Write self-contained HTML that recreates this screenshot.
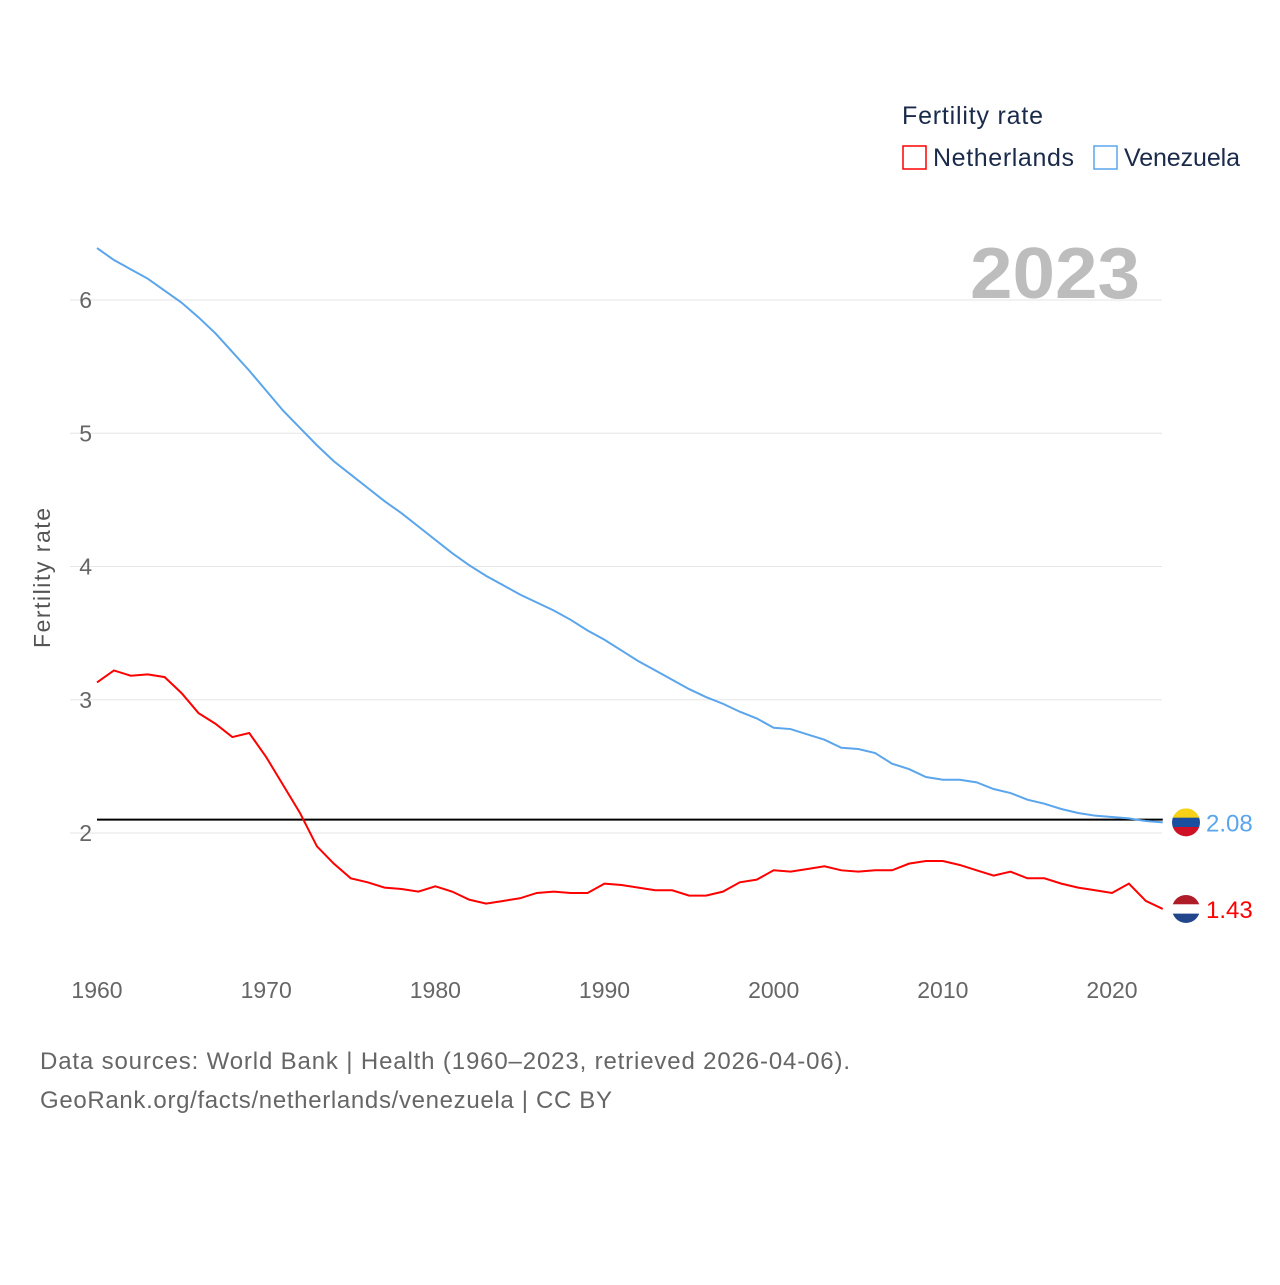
<!DOCTYPE html>
<html><head><meta charset="utf-8"><style>
body{margin:0;background:#fff;font-family:"Liberation Sans",sans-serif}
svg text{font-family:"Liberation Sans",sans-serif}
</style></head><body>
<svg id="chart" width="1280" height="1280" viewBox="0 0 1280 1280">
<text x="902" y="124" font-size="25" fill="#1a2a4a" textLength="141">Fertility rate</text>
<g><rect x="903" y="146" width="23" height="23" fill="none" stroke="#ff0000" stroke-width="1.5"/><text x="933" y="166" font-size="25" fill="#1a2a4a" textLength="141">Netherlands</text></g>
<g><rect x="1094" y="146" width="23" height="23" fill="none" stroke="#5aa5ec" stroke-width="1.5"/><text x="1124" y="166" font-size="25" fill="#1a2a4a" textLength="116">Venezuela</text></g>
<text x="970" y="298" font-size="72" font-weight="bold" fill="#bdbdbd" textLength="170" lengthAdjust="spacingAndGlyphs">2023</text>
<text transform="translate(50,578) rotate(-90)" font-size="23" fill="#555" text-anchor="middle" textLength="140">Fertility rate</text>
<g id="grid"></g><g id="ticks"></g><g id="lines"></g>
<text x="40" y="1069" font-size="24" fill="#666" textLength="810">Data sources: World Bank | Health (1960–2023, retrieved 2026-04-06).</text>
<text x="40" y="1108" font-size="24" fill="#666" textLength="572">GeoRank.org/facts/netherlands/venezuela | CC BY</text>
</svg>
<script>
const years=[];for(let y=1960;y<=2023;y++)years.push(y);
const netherlands=[3.13,3.22,3.18,3.19,3.17,3.05,2.90,2.82,2.72,2.75,2.57,2.36,2.15,1.90,1.77,1.66,1.63,1.59,1.58,1.56,1.60,1.56,1.50,1.47,1.49,1.51,1.55,1.56,1.55,1.55,1.62,1.61,1.59,1.57,1.57,1.53,1.53,1.56,1.63,1.65,1.72,1.71,1.73,1.75,1.72,1.71,1.72,1.72,1.77,1.79,1.79,1.76,1.72,1.68,1.71,1.66,1.66,1.62,1.59,1.57,1.55,1.62,1.49,1.43];
const venezuela=[6.39,6.30,6.23,6.16,6.07,5.98,5.87,5.75,5.61,5.47,5.32,5.17,5.04,4.91,4.79,4.69,4.59,4.49,4.40,4.30,4.20,4.10,4.01,3.93,3.86,3.79,3.73,3.67,3.60,3.52,3.45,3.37,3.29,3.22,3.15,3.08,3.02,2.97,2.91,2.86,2.79,2.78,2.74,2.70,2.64,2.63,2.60,2.52,2.48,2.42,2.40,2.40,2.38,2.33,2.30,2.25,2.22,2.18,2.15,2.13,2.12,2.11,2.09,2.08];
const yTicks=[2,3,4,5,6];
const xTicks=[1960,1970,1980,1990,2000,2010,2020];
const replacementRate=2.1;
const NS="http://www.w3.org/2000/svg";
const X=y=>97+(y-1960)*(1015/60);
const Y=v=>833-(v-2)*133.25;
function mk(t,a,p){const e=document.createElementNS(NS,t);for(const k in a)e.setAttribute(k,a[k]);document.getElementById(p).appendChild(e);return e;}
yTicks.forEach(v=>{
 const l=mk('line',{x1:70,x2:1162,y1:Y(v),y2:Y(v),stroke:'#e6e6e6','stroke-width':1},'grid');
 
 
 const t=mk('text',{x:92,y:Y(v)+8,'font-size':23,fill:'#666','text-anchor':'end'},'ticks');t.textContent=v;
 
 
});
xTicks.forEach(v=>{
 const t=mk('text',{x:X(v),y:998,'font-size':23,fill:'#666','text-anchor':'middle'},'ticks');t.textContent=v;
 
 
});
const rl=mk('line',{x1:X(1960),x2:X(2023),y1:Y(replacementRate),y2:Y(replacementRate),stroke:'#000','stroke-width':2},'lines');


function series(vals,color,name){
 const p=mk('polyline',{points:vals.map((v,i)=>X(years[i])+','+Y(v)).join(' '),fill:'none',stroke:color,'stroke-width':2},'lines');
 
 
 return Y(vals[vals.length-1]);
}
const cyV=series(venezuela,'#5aa5ec','venezuela');
const cyN=series(netherlands,'#ff0000','netherlands');
function flag(cy,cols,name,val,color){
 const id='clip'+name;
 const cp=mk('clipPath',{id:id},'lines');const c=document.createElementNS(NS,'circle');c.setAttribute('cx',1186);c.setAttribute('cy',cy);c.setAttribute('r',14);cp.appendChild(c);
 const g=mk('g',{'clip-path':'url(#'+id+')'},'lines');
 
 
 cols.forEach((col,i)=>{const r=document.createElementNS(NS,'rect');r.setAttribute('x',1172);r.setAttribute('y',cy-14+i*28/3);r.setAttribute('width',28);r.setAttribute('height',28/3+0.5);r.setAttribute('fill',col);g.appendChild(r);});
 const t=mk('text',{x:1206,y:cy+9,'font-size':24,fill:color},'lines');t.textContent=val.toFixed(2);
 
 
}
flag(cyV,['#f7d117','#1a4fa0','#cf1126'],'venezuela',venezuela[venezuela.length-1],'#5aa5ec');
flag(cyN,['#ae1c28','#ffffff','#21468b'],'netherlands',netherlands[netherlands.length-1],'#ff0000');
</script>
</body></html>
